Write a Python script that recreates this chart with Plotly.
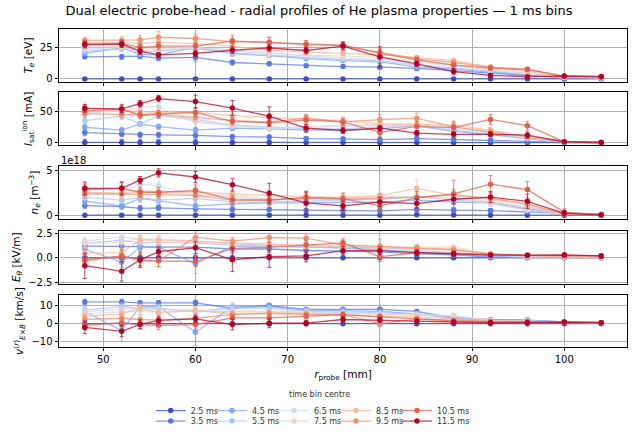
import plotly.graph_objects as go
from plotly.subplots import make_subplots

# ---------------- data ----------------
r_probe = [48, 52, 54, 56, 60, 64, 68, 72, 76, 80, 84, 88, 92, 96, 100, 104]
time_bins = [2.5, 3.5, 4.5, 5.5, 6.5, 7.5, 8.5, 9.5, 10.5, 11.5]
colors = ["#3b4cc0", "#5977e3", "#7ea1fa", "#aac7fd", "#cdd9ec",
          "#ebd3c6", "#f6b89c", "#f1906f", "#dd604d", "#b40426"]

# electron temperature [eV]
te = [
    [0, 0, 0, 0, 0, 0, 0, 0, 0, 0, 0, 0, 0, 0, 0, 0],
    [17.5, 17.5, 18, 16.5, 17, 13, 12, 10.5, 9.8, 9.3, 8.3, 6.5, 4.5, 2.5, 0.8, 0.5],
    [20.5, 24.5, 19.5, 19, 25, 20, 18.5, 16, 14.5, 13.5, 9.5, 8, 5.5, 3, 1, 0.8],
    [22, 24, 21, 22, 24, 20.5, 18.5, 17, 15.5, 14.5, 11, 9, 6, 3.5, 1.2, 0.9],
    [23.5, 25, 22.5, 23, 24.5, 22, 20, 18.5, 16.5, 15.5, 13, 10.5, 7, 4, 1.4, 1],
    [25, 26, 24, 24.5, 25, 23, 20.5, 19, 18, 17, 14.5, 11.5, 8, 4.5, 1.6, 1.1],
    [28.5, 29, 28, 29, 28, 26, 22.5, 21.5, 20.5, 19, 17, 14.5, 9.5, 6, 1.8, 1.2],
    [30.5, 30.5, 31, 33, 32, 29.5, 29, 27, 26.5, 21, 16, 13, 9.3, 7.5, 2, 1.4],
    [28, 28, 25, 26, 26, 30, 29, 27.5, 26.5, 20.5, 15, 11, 8.5, 7.6, 2.2, 1.6],
    [27, 27.5, 22, 19, 20.2, 22.7, 24.5, 22.5, 26, 17.4, 11.9, 5.8, 2.8, 1.8, 2.3, 2],
]
te_err = [
    [0.5, 0.5, 0.5, 0.5, 0.5, 0.5, 0.5, 0.5, 0.5, 0.5, 0.5, 0.5, 0.5, 0.5, 0.5, 0.5],
    [1.5, 2, 2, 2, 3, 2, 1.5, 1.5, 1.5, 1.5, 1.5, 1.5, 1, 1, 0.5, 0.5],
    [2, 2.5, 2, 2, 2.5, 2, 1.5, 1.5, 1.5, 1.5, 1.5, 1, 1, 0.8, 0.5, 0.5],
    [2, 2, 2, 2, 2, 2, 1.5, 1.5, 1.5, 1.5, 1.5, 1, 1, 0.8, 0.5, 0.5],
    [2, 2, 2, 2, 2, 2, 2, 1.5, 1.5, 1.5, 1.5, 1.2, 1, 0.8, 0.5, 0.5],
    [2, 2, 2, 2, 2, 2, 2, 2, 2, 1.5, 1.5, 1.2, 1, 0.8, 0.5, 0.5],
    [2.5, 2.5, 2.5, 2.5, 2.5, 2.5, 2.5, 2, 2, 2, 1.5, 1.5, 1.2, 1, 0.5, 0.5],
    [2.5, 3, 3.5, 4.5, 3, 3, 4, 3, 2.5, 3, 2, 2, 1.5, 1.5, 0.5, 0.5],
    [2.5, 3, 3, 3, 2.5, 4.5, 4, 3, 3, 3, 2, 1.5, 1.5, 1.5, 0.5, 0.5],
    [2.5, 2.5, 2.5, 2, 2.5, 2.5, 2.5, 2.5, 3, 8, 2, 2.5, 1.5, 1, 0.5, 0.5],
]

# ion saturation current [mA]
isat = [
    [0.5, 0.5, 0.5, 0.5, 0.5, 0.5, 0.5, 0.5, 0.5, 0.5, 0.5, 0.5, 0.3, 0.2, 0.1, 0.1],
    [16, 14, 12.5, 12.5, 11.5, 9.5, 9, 6.5, 6, 5, 6.5, 5, 4, 2, 0.5, 0.2],
    [24.5, 20, 29.5, 25.5, 20, 23, 22, 20, 20, 22, 27, 18, 13, 6, 1, 0.3],
    [35, 42, 30, 43, 37, 28, 25, 22, 22, 25, 26, 20, 13, 7, 1.2, 0.3],
    [47, 50, 57, 57, 33, 26, 24, 24, 26, 28, 27, 22, 15, 8, 1.2, 0.3],
    [50, 50, 48, 46, 34, 28, 23, 26, 27, 29, 30, 25, 17, 8, 1.3, 0.3],
    [55, 52, 50, 48, 48, 43, 40, 38, 35, 30, 29, 28, 20, 9, 1.4, 0.3],
    [46, 45, 44, 45, 40, 35, 33, 39, 33, 36.7, 39, 25, 17, 10, 1.5, 0.3],
    [51, 53, 44, 45, 48, 34, 31.6, 36, 33, 16.3, 26, 24, 37, 27, 1.5, 0.3],
    [54.6, 53.6, 62, 70, 65.3, 55, 42, 23, 19.4, 23, 15.3, 13.3, 13.3, 12, 1.5, 0.3],
]
isat_err = [
    [5, 5, 5, 5, 5, 4, 4, 4, 4, 4, 4, 4, 3, 3, 1, 0.5],
    [5, 4, 4, 4, 4, 3, 3, 3, 3, 3, 3, 3, 3, 2, 1, 0.5],
    [4, 4, 4, 4, 4, 3, 3, 3, 3, 3, 4, 3, 3, 2, 1, 0.5],
    [5, 5, 4, 5, 4, 4, 3, 3, 3, 3, 4, 3, 3, 2, 1, 0.5],
    [6, 6, 6, 6, 5, 4, 4, 3, 3, 4, 4, 3, 3, 2, 1, 0.5],
    [6, 6, 5, 5, 5, 4, 4, 4, 4, 4, 5, 4, 3, 2, 1, 0.5],
    [8, 8, 6, 6, 7, 6, 6, 7, 6, 8, 9, 6, 4, 3, 1, 0.5],
    [6, 6, 5, 5, 6, 5, 5, 6, 5, 8, 8, 6, 5, 4, 1, 0.5],
    [7, 8, 6, 6, 7, 6, 6, 7, 6, 6, 8, 10, 8, 7, 1, 0.5],
    [6, 6, 5, 5, 10, 12, 15, 6, 5, 4, 4, 4, 4, 5, 1, 0.5],
]

# electron density [1e18 m^-3]
ne = [
    [0.05, 0.05, 0.03, 0.05, 0.05, 0.03, 0.05, 0.05, 0.05, 0.05, 0.1, 0.07, 0.05, 0.05, 0.05, 0.05],
    [1.1, 1.0, 0.8, 0.86, 0.75, 0.68, 0.68, 0.55, 0.55, 0.53, 0.68, 0.6, 0.55, 0.4, 0.25, 0.12],
    [1.6, 1.07, 1.9, 1.6, 1.07, 1.3, 1.4, 1.4, 1.45, 1.5, 1.7, 1.5, 1.4, 0.7, 0.3, 0.15],
    [2.0, 1.7, 2.0, 1.7, 1.9, 1.5, 1.5, 1.6, 1.7, 1.8, 2.1, 1.7, 1.5, 0.9, 0.3, 0.15],
    [2.3, 2.4, 3.45, 3.3, 2.2, 2.0, 1.7, 1.8, 1.9, 2.0, 2.0, 1.9, 1.3, 0.6, 0.2, 0.1],
    [2.5, 2.5, 2.8, 2.6, 2.3, 2.2, 1.8, 1.9, 2.0, 2.1, 2.1, 2.0, 1.5, 1.0, 0.2, 0.1],
    [2.6, 2.4, 2.6, 2.6, 2.6, 2.4, 2.2, 2.1, 2.0, 2.2, 3.0, 2.2, 1.8, 1.2, 0.15, 0.1],
    [2.4, 2.4, 2.3, 2.3, 2.2, 1.7, 1.7, 1.9, 1.8, 1.9, 2.0, 2.3, 1.9, 1.3, 0.2, 0.1],
    [2.86, 3.0, 2.57, 2.57, 2.75, 1.75, 1.7, 2.0, 1.86, 1.07, 1.96, 2.4, 3.46, 2.86, 0.35, 0.1],
    [3.0, 3.0, 3.9, 4.7, 4.25, 3.4, 2.46, 1.4, 1.07, 1.5, 1.32, 1.8, 2.04, 1.57, 0.25, 0.07],
]
ne_err = [
    [0.15, 0.15, 0.15, 0.15, 0.15, 0.15, 0.15, 0.15, 0.15, 0.15, 0.15, 0.15, 0.1, 0.1, 0.05, 0.05],
    [0.3, 0.3, 0.3, 0.3, 0.3, 0.25, 0.25, 0.25, 0.25, 0.25, 0.25, 0.25, 0.2, 0.2, 0.1, 0.05],
    [0.4, 0.3, 0.4, 0.4, 0.3, 0.3, 0.3, 0.3, 0.3, 0.3, 0.4, 0.3, 0.3, 0.2, 0.1, 0.05],
    [0.4, 0.4, 0.4, 0.4, 0.4, 0.3, 0.3, 0.3, 0.3, 0.3, 0.4, 0.3, 0.3, 0.2, 0.1, 0.05],
    [0.5, 0.5, 0.5, 0.5, 0.4, 0.4, 0.3, 0.3, 0.3, 0.4, 0.4, 0.3, 0.3, 0.2, 0.1, 0.05],
    [0.5, 0.5, 0.5, 0.5, 0.4, 0.4, 0.4, 0.4, 0.4, 0.4, 0.5, 0.4, 0.3, 0.3, 0.1, 0.05],
    [0.6, 0.6, 0.5, 0.5, 0.5, 0.5, 0.5, 0.5, 0.5, 0.7, 1.0, 0.6, 0.4, 0.3, 0.1, 0.05],
    [0.5, 0.5, 0.4, 0.4, 0.5, 0.4, 0.4, 0.5, 0.4, 0.5, 0.6, 0.6, 0.5, 0.4, 0.1, 0.05],
    [0.6, 0.7, 0.5, 0.5, 0.6, 0.5, 0.5, 0.7, 0.6, 0.5, 0.7, 1.5, 0.95, 0.9, 0.4, 0.05],
    [0.7, 0.7, 0.4, 0.45, 0.6, 0.7, 1.1, 1.2, 0.5, 0.5, 0.5, 0.5, 0.6, 0.8, 0.3, 0.05],
]

# poloidal electric field [kV/m]
etheta = [
    [0.0, 0.0, 0.0, 0.0, 0.0, 0.0, 0.0, 0.0, 0.0, 0.0, 0.0, 0.0, 0.0, 0.0, 0.0, 0.0],
    [1.2, 1.2, 1.15, 1.1, 1.1, 0.9, 0.9, 0.75, 0.7, 0.6, 0.4, 0.3, 0.1, 0.05, 0.05, 0.05],
    [0.9, -0.45, 1.1, 1.1, -0.6, 1.2, 1.2, 1.1, 1.0, 0.8, 0.6, 0.3, 0.1, 0.05, 0.05, 0.05],
    [1.5, 1.8, 1.5, 1.6, 1.5, 1.3, 1.2, 1.1, 1.1, 1.0, 0.8, 0.5, 0.2, 0.1, 0.05, 0.05],
    [1.7, 2.1, 1.9, 1.9, 1.7, 1.4, 1.3, 1.2, 1.2, 1.1, 1.0, 0.9, 0.3, 0.1, 0.1, 0.1],
    [1.5, 1.6, 2.0, 1.6, 1.6, 1.5, 1.4, 1.3, 1.3, 1.1, 1.1, 1.1, 0.4, 0.2, 0.15, 0.1],
    [0.5, 0.5, 1.8, 1.8, 1.7, 1.5, 1.4, 1.3, 1.1, 1.0, 1.0, 0.9, 0.35, 0.2, 0.2, 0.15],
    [-0.35, 0.2, -0.3, -0.3, 2.1, 1.7, 2.07, 2.0, 1.3, 1.2, 0.97, 0.8, 0.4, 0.25, 0.2, 0.2],
    [-0.2, 0.2, -0.2, -0.3, -0.37, 0.97, 1.07, 1.3, 1.53, 0.13, 0.5, 0.47, 0.35, 0.25, 0.25, 0.2],
    [-0.8, -1.37, -0.2, 0.63, 1.03, -0.2, 0.13, 0.2, 0.73, 0.73, 0.53, 0.4, 0.27, 0.27, 0.3, 0.2],
]
etheta_err = [
    [0.2, 0.2, 0.2, 0.2, 0.2, 0.15, 0.15, 0.15, 0.15, 0.15, 0.15, 0.1, 0.1, 0.1, 0.1, 0.1],
    [0.3, 0.3, 0.3, 0.3, 0.3, 0.3, 0.3, 0.2, 0.2, 0.2, 0.2, 0.15, 0.1, 0.1, 0.1, 0.1],
    [0.5, 0.5, 0.4, 0.4, 1.0, 0.4, 0.3, 0.3, 0.3, 0.3, 0.2, 0.15, 0.1, 0.1, 0.1, 0.1],
    [0.4, 0.4, 0.4, 0.4, 0.4, 0.3, 0.3, 0.3, 0.3, 0.3, 0.2, 0.15, 0.1, 0.1, 0.1, 0.1],
    [0.4, 0.4, 0.4, 0.4, 0.4, 0.3, 0.3, 0.3, 0.3, 0.3, 0.3, 0.2, 0.15, 0.1, 0.1, 0.1],
    [0.4, 0.4, 0.4, 0.4, 0.4, 0.3, 0.3, 0.3, 0.3, 0.3, 0.3, 0.2, 0.15, 0.1, 0.1, 0.1],
    [0.5, 0.5, 0.5, 0.5, 0.4, 0.4, 0.4, 0.4, 0.3, 0.3, 0.3, 0.2, 0.15, 0.1, 0.1, 0.1],
    [0.6, 0.6, 0.6, 0.6, 0.4, 0.4, 0.4, 0.4, 0.4, 0.7, 0.3, 0.2, 0.15, 0.1, 0.1, 0.1],
    [0.6, 0.6, 0.6, 0.6, 0.5, 0.5, 0.5, 0.5, 0.4, 0.5, 0.3, 0.2, 0.15, 0.1, 0.1, 0.1],
    [1.3, 1.0, 0.8, 0.5, 0.6, 1.2, 1.1, 0.6, 0.4, 0.4, 0.3, 0.3, 0.2, 0.2, 0.2, 0.2],
]

# radial E x B drift velocity [km/s]
vexb = [
    [0.0, 0.0, 0.0, 0.0, 0.0, 0.0, 0.0, 0.0, 0.0, 0.0, 0.0, 0.0, 0.0, 0.0, 0.0, 0.0],
    [12.1, 12.1, 11.6, 11.6, 11.6, 8.6, 10, 8, 8, 8, 6.8, 3.2, 2.3, 2.0, 0.9, 0.5],
    [6.8, -3.9, 9.5, 9.5, -4.8, 9.5, 9.5, 7.5, 7.3, 6.8, 5.5, 3, 2, 1.8, 0.9, 0.5],
    [7.7, 9.5, 8.6, 8.6, 6.5, 9.0, 8.5, 7.0, 6.5, 6.0, 5.5, 3.5, 2.0, 1.5, 0.9, 0.5],
    [6.8, 8.0, 8.6, 8.0, 7.3, 7.0, 7.0, 6.5, 6.0, 5.5, 5.0, 4.5, 1.8, 1.5, 0.9, 0.5],
    [5.5, 6.5, 7.3, 6.8, 7.0, 6.5, 6.5, 6.0, 5.5, 5.0, 4.5, 4.3, 1.8, 1.3, 0.8, 0.5],
    [4.1, 5.5, 8.6, 6.0, 7.3, 5.5, 5.5, 5.0, 4.5, 4.2, 3.8, 2.5, 1.5, 1.2, 0.8, 0.5],
    [2.3, 3.0, 2.3, 2.0, 3.0, 5.0, 5.9, 5.5, 5.0, 0.0, 2.5, 2.0, 1.2, 1.0, 0.8, 0.5],
    [-0.9, 0.5, -0.5, -0.9, -0.5, 3.2, 3.2, 4.1, 5.0, 3.8, 2.5, 1.5, 1.0, 0.9, 0.8, 0.5],
    [-2.1, -4.3, -0.4, 1.8, 2.7, -0.5, 0.2, 0.3, 2.3, 2.0, 1.4, 0.9, 0.5, 0.6, 0.9, 0.5],
]
vexb_err = [
    [0.8, 0.8, 0.8, 0.8, 0.8, 0.6, 0.6, 0.6, 0.6, 0.6, 0.5, 0.4, 0.3, 0.3, 0.3, 0.3],
    [1.5, 1.5, 1.2, 1.2, 1.5, 1.2, 1.2, 1.0, 1.0, 1.0, 0.8, 0.6, 0.5, 0.4, 0.3, 0.3],
    [2.0, 6.0, 2.0, 2.0, 7.5, 2.0, 2.0, 1.5, 1.2, 1.2, 1.0, 0.8, 0.5, 0.4, 0.3, 0.3],
    [2.0, 2.0, 2.0, 2.0, 2.0, 1.5, 1.5, 1.2, 1.2, 1.0, 1.0, 0.8, 0.5, 0.4, 0.3, 0.3],
    [2.0, 2.0, 2.0, 2.0, 2.0, 1.5, 1.5, 1.2, 1.2, 1.0, 1.0, 0.8, 0.5, 0.4, 0.3, 0.3],
    [2.0, 2.0, 2.0, 2.0, 2.0, 1.5, 1.5, 1.2, 1.2, 1.0, 1.0, 1.0, 0.5, 0.4, 0.3, 0.3],
    [2.0, 2.0, 2.0, 2.0, 2.0, 1.5, 1.5, 1.5, 1.2, 1.0, 1.0, 0.8, 0.5, 0.4, 0.3, 0.3],
    [2.5, 2.5, 2.5, 2.5, 2.5, 2.0, 2.0, 1.5, 1.5, 1.5, 1.0, 0.8, 0.5, 0.4, 0.3, 0.3],
    [2.5, 2.5, 2.5, 2.5, 2.5, 2.0, 2.0, 1.5, 1.5, 1.5, 1.0, 0.8, 0.5, 0.4, 0.3, 0.3],
    [3.5, 3.0, 2.5, 2.0, 2.0, 3.0, 2.5, 1.5, 1.5, 1.5, 1.0, 0.8, 0.5, 0.4, 0.3, 0.3],
]

# ---------------- figure ----------------
W, H = 638, 436


def rgba(hx, a):
    hx = hx.lstrip("#")
    r, g, b = int(hx[0:2], 16), int(hx[2:4], 16), int(hx[4:6], 16)
    return f"rgba({r},{g},{b},{a})"


def legend_key(k):
    return "legend" if k == 0 else f"legend{k + 1}"


fig = make_subplots(rows=5, cols=1, shared_xaxes=True)

panels = [(te, te_err), (isat, isat_err), (ne, ne_err), (etheta, etheta_err), (vexb, vexb_err)]
for p, (vals, errs) in enumerate(panels):
    for k, t in enumerate(time_bins):
        fig.add_trace(
            go.Scatter(
                x=r_probe, y=vals[k], mode="lines+markers",
                name=f"{t} ms", legendgroup=f"{t}",
                showlegend=(p == 0), legend=legend_key(k),
                line=dict(color=rgba(colors[k], 0.75), width=1.3),
                marker=dict(color=colors[k], size=5.5),
                error_y=dict(type="data", array=errs[k], visible=True,
                             color=rgba(colors[k], 0.75), thickness=1, width=2),
            ),
            row=p + 1, col=1,
        )

# pixel layout -> paper coordinates
x_left, x_right = 59, 627
panel_px = [(27.3, 81.7), (92.7, 147.7), (169.5, 224.0), (236.5, 291.3), (303.3, 357.0)]
y_ranges = [[-2.2, 39.3], [-4.1, 80.0], [-0.35, 5.43], [-2.62, 2.75], [-13.0, 15.9]]
y_ticks = [[0, 25], [0, 50], [0, 5], [-2.5, 0, 2.5], [-10, 0, 10]]
y_titles = [
    "<i>T</i><sub><i>e</i></sub> [eV]",
    "<i>I</i><sub>sat</sub><sup>ion</sup> [mA]",
    "<i>n</i><sub><i>e</i></sub> [m<sup>−3</sup>]",
    "<i>E</i><sub><i>θ</i></sub> [kV/m]",
    "<i>v</i><sup>(<i>r</i>)</sup><sub><i>E</i>×<i>B</i></sub> [km/s]",
]
y_fmt = ["", "", "", ".1f", ""]

font_family = "DejaVu Sans"
axis_common = dict(
    showline=True, linecolor="black", linewidth=1, mirror=True,
    showgrid=True, gridcolor="#b0b0b0", gridwidth=0.8,
    zeroline=False, ticks="outside", ticklen=3.5, tickwidth=0.8, tickcolor="black",
    tickfont=dict(family=font_family, size=10, color="black"),
)

for i in range(5):
    top, bot = panel_px[i]
    yax = "yaxis" if i == 0 else f"yaxis{i + 1}"
    xax = "xaxis" if i == 0 else f"xaxis{i + 1}"
    fig.layout[yax].update(
        domain=[1 - bot / H, 1 - top / H], range=y_ranges[i], tickvals=y_ticks[i],
        tickformat=y_fmt[i], automargin=True,
        title=dict(text=y_titles[i], standoff=5,
                   font=dict(family=font_family, size=10.5, color="black")),
        **axis_common,
    )
    fig.layout[xax].update(
        domain=[x_left / W, x_right / W], range=[45.2, 106.8],
        tickvals=[50, 60, 70, 80, 90, 100], showticklabels=(i == 4),
        **axis_common,
    )

fig.layout.xaxis5.title = dict(text="<i>r</i><sub>probe</sub> [mm]",
                               font=dict(family=font_family, size=10.5, color="black"),
                               standoff=6)

fig.add_annotation(text="1e18", xref="paper", yref="paper",
                   x=x_left / W, y=1 - 163.5 / H, xanchor="left", yanchor="middle",
                   showarrow=False, font=dict(family=font_family, size=10, color="black"))

fig.add_annotation(text="time bin centre", xref="paper", yref="paper",
                   x=319 / W, y=1 - 406 / H, xanchor="center", yanchor="middle",
                   showarrow=False, font=dict(family=font_family, size=8, color="#333333"))

# one small legend per entry: 5 columns x 2 rows, column-major order
col_text_x = [190.7, 252, 314, 376, 437]
row_y = [418, 429]
legend_layouts = {}
for k in range(len(time_bins)):
    c, r = k // 2, k % 2
    legend_layouts[legend_key(k)] = dict(
        orientation="v", xanchor="left", x=(col_text_x[c] - 40) / W,
        yanchor="top", y=1 - (row_y[r] - 10) / H,
        font=dict(family=font_family, size=8, color="#333333"),
        bgcolor="rgba(255,255,255,0)", itemwidth=30, borderwidth=0,
    )

fig.update_layout(
    width=W, height=H,
    margin=dict(l=0, r=0, t=0, b=0),
    paper_bgcolor="white", plot_bgcolor="white",
    title=dict(text="Dual electric probe-head - radial profiles of He plasma properties — 1 ms bins",
               x=0.5, xanchor="center", y=1 - 10 / H, yanchor="middle",
               font=dict(family=font_family, size=13, color="black")),
    showlegend=True,
    **legend_layouts,
)

fig.write_html("out.html", config={"displayModeBar": False},
               post_script="document.body.style.margin='0px';")
